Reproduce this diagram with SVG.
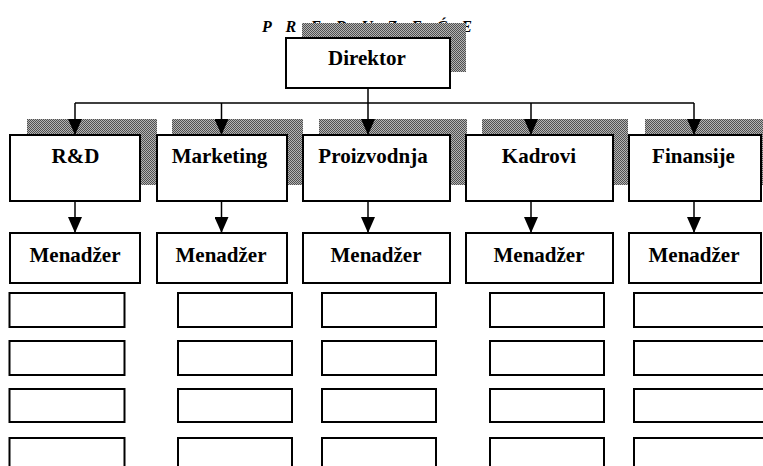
<svg xmlns="http://www.w3.org/2000/svg" width="763" height="466" viewBox="0 0 763 466">
<style>
.box{fill:#fff;stroke:#000;stroke-width:2}
.sh{fill:url(#dots);stroke:none}
.lbl{font-family:"Liberation Serif","Times New Roman",serif;font-weight:bold;font-size:21px;text-anchor:middle;fill:#000}
.title{font-family:"Liberation Serif","Times New Roman",serif;font-weight:bold;font-style:italic;font-size:16px;fill:#000}
.con{fill:none;stroke:#000;stroke-width:1.5}
</style>
<defs>
<pattern id="dots" width="2" height="2" patternUnits="userSpaceOnUse">
<rect width="2" height="2" fill="#b4b4b4"/>
<rect width="1" height="1" fill="#505050"/>
<rect x="1" y="1" width="1" height="1" fill="#505050"/>
</pattern>
<marker id="arr" viewBox="0 0 16 14" markerWidth="16" markerHeight="14" refX="16" refY="7" orient="auto" markerUnits="userSpaceOnUse">
<path d="M0,0 L16,7 L0,14 z" fill="#000"/>
</marker>
</defs>
<rect width="763" height="466" fill="#fff"/>
<text class="title" x="262" y="32" textLength="210" lengthAdjust="spacing">P R E D U Z E Ć E</text>

<g id="director">
<rect class="sh" x="302" y="23" width="164" height="49"/>
<rect class="box" x="286" y="38" width="164" height="50"/>
<text class="lbl" x="367" y="65">Direktor</text>
</g>

<g id="rnd">
<rect class="sh" x="27" y="119" width="130" height="66"/>
<rect class="box" x="10" y="135" width="130" height="66"/>
<text class="lbl" x="75.5" y="163">R&amp;D</text>
</g>
<g id="marketing">
<rect class="sh" x="172" y="119" width="131" height="66"/>
<rect class="box" x="157" y="135" width="130" height="66"/>
<text class="lbl" x="219.5" y="163">Marketing</text>
</g>
<g id="proizvodnja">
<rect class="sh" x="319" y="119" width="148" height="66"/>
<rect class="box" x="303" y="135" width="147" height="66"/>
<text class="lbl" x="373" y="163">Proizvodnja</text>
</g>
<g id="kadrovi">
<rect class="sh" x="482" y="119" width="146" height="66"/>
<rect class="box" x="466" y="135" width="147" height="66"/>
<text class="lbl" x="539" y="163">Kadrovi</text>
</g>
<g id="finansije">
<rect class="sh" x="645" y="119" width="130" height="66"/>
<rect class="box" x="629" y="135" width="132" height="66"/>
<text class="lbl" x="693.5" y="163">Finansije</text>
</g>

<g id="menadzer-rnd"><rect class="box" x="10" y="233" width="130" height="50"/><text class="lbl" x="75" y="262">Menadžer</text></g>
<g id="menadzer-marketing"><rect class="box" x="157" y="233" width="130" height="50"/><text class="lbl" x="221" y="262">Menadžer</text></g>
<g id="menadzer-proizvodnja"><rect class="box" x="303" y="233" width="147" height="50"/><text class="lbl" x="376" y="262">Menadžer</text></g>
<g id="menadzer-kadrovi"><rect class="box" x="466" y="233" width="147" height="50"/><text class="lbl" x="539" y="262">Menadžer</text></g>
<g id="menadzer-finansije"><rect class="box" x="629" y="233" width="132" height="50"/><text class="lbl" x="694" y="262">Menadžer</text></g>

<g id="c1-r1"><rect class="box" x="9.5" y="293" width="115" height="34"/></g>
<g id="c1-r2"><rect class="box" x="9.5" y="341" width="115" height="34"/></g>
<g id="c1-r3"><rect class="box" x="9.5" y="389" width="115" height="33"/></g>
<g id="c1-r4"><rect class="box" x="9.5" y="438" width="115" height="40"/></g>
<g id="c2-r1"><rect class="box" x="178" y="293" width="114" height="34"/></g>
<g id="c2-r2"><rect class="box" x="178" y="341" width="114" height="34"/></g>
<g id="c2-r3"><rect class="box" x="178" y="389" width="114" height="33"/></g>
<g id="c2-r4"><rect class="box" x="178" y="438" width="114" height="40"/></g>
<g id="c3-r1"><rect class="box" x="322" y="293" width="114" height="34"/></g>
<g id="c3-r2"><rect class="box" x="322" y="341" width="114" height="34"/></g>
<g id="c3-r3"><rect class="box" x="322" y="389" width="114" height="33"/></g>
<g id="c3-r4"><rect class="box" x="322" y="438" width="114" height="40"/></g>
<g id="c4-r1"><rect class="box" x="490" y="293" width="114" height="34"/></g>
<g id="c4-r2"><rect class="box" x="490" y="341" width="114" height="34"/></g>
<g id="c4-r3"><rect class="box" x="490" y="389" width="114" height="33"/></g>
<g id="c4-r4"><rect class="box" x="490" y="438" width="114" height="40"/></g>
<g id="c5-r1"><rect class="box" x="634" y="293" width="140" height="34"/></g>
<g id="c5-r2"><rect class="box" x="634" y="341" width="140" height="34"/></g>
<g id="c5-r3"><rect class="box" x="634" y="389" width="140" height="33"/></g>
<g id="c5-r4"><rect class="box" x="634" y="438" width="140" height="40"/></g>

<g id="connectors">
<path class="con" d="M368,88 V103 M75,103 H694"/>
<line class="con" x1="75" y1="103" x2="75" y2="135" marker-end="url(#arr)"/>
<line class="con" x1="221.5" y1="103" x2="221.5" y2="135" marker-end="url(#arr)"/>
<line class="con" x1="368" y1="103" x2="368" y2="135" marker-end="url(#arr)"/>
<line class="con" x1="531" y1="103" x2="531" y2="135" marker-end="url(#arr)"/>
<line class="con" x1="694" y1="103" x2="694" y2="135" marker-end="url(#arr)"/>
<line class="con" x1="75" y1="201" x2="75" y2="233" marker-end="url(#arr)"/>
<line class="con" x1="221.5" y1="201" x2="221.5" y2="233" marker-end="url(#arr)"/>
<line class="con" x1="368" y1="201" x2="368" y2="233" marker-end="url(#arr)"/>
<line class="con" x1="531" y1="201" x2="531" y2="233" marker-end="url(#arr)"/>
<line class="con" x1="694" y1="201" x2="694" y2="233" marker-end="url(#arr)"/>
</g>
</svg>
